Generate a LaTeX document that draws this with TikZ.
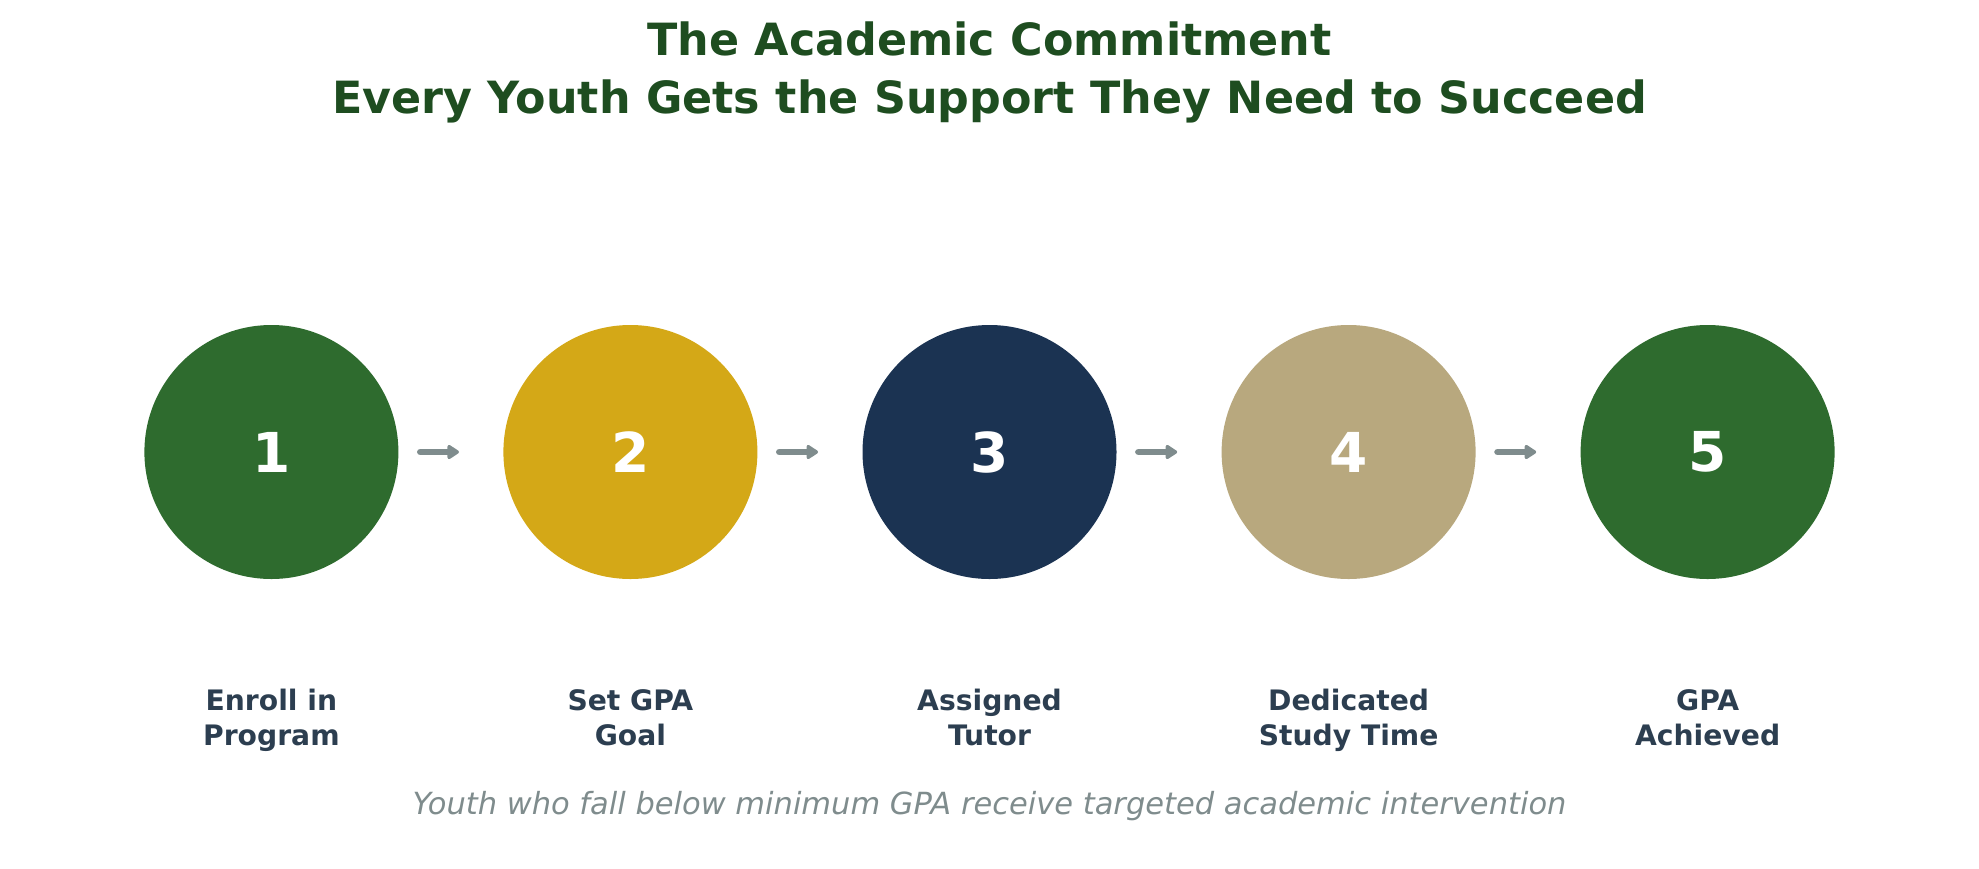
\documentclass[tikz,border=0pt]{standalone}
\usepackage{fontspec}
\setmainfont{DejaVu Sans}
\usetikzlibrary{arrows.meta}
\definecolor{cgreen}{RGB}{46,107,46}
\definecolor{cgold}{RGB}{212,168,23}
\definecolor{cnavy}{RGB}{27,51,82}
\definecolor{ctan}{RGB}{184,168,126}
\definecolor{ctitle}{RGB}{30,77,32}
\definecolor{clabel}{RGB}{44,62,80}
\definecolor{cgray}{RGB}{127,140,141}
\tikzset{
  stepcircle/.style={circle, inner sep=0pt, minimum size=127pt, text=white,
    font=\fontsize{27.5pt}{30pt}\selectfont\bfseries},
  steplabel/.style={align=center, text=clabel,
    font=\fontsize{14.1pt}{17.7pt}\selectfont\bfseries},
  arr/.style={draw=cgray, line width=3.4pt, line cap=round,
    -{Triangle[length=6.5pt, width=8pt, round]},
    shorten <=10.8pt, shorten >=22pt},
}
\begin{document}
\begin{tikzpicture}[x=0.5pt, y=-0.5pt]
\useasboundingbox (0,0) rectangle (1979,868);
\node[text=ctitle, align=center, font=\fontsize{22.2pt}{29pt}\selectfont\bfseries] (title) at (989.5,72)
  {The Academic Commitment\\Every Youth Gets the Support They Need to Succeed};
\node[stepcircle, fill=cgreen] (c1) at (271.4,452) {1};
\node[stepcircle, fill=cgold]  (c2) at (630.4,452) {2};
\node[stepcircle, fill=cnavy]  (c3) at (989.5,452) {3};
\node[stepcircle, fill=ctan]   (c4) at (1348.6,452) {4};
\node[stepcircle, fill=cgreen] (c5) at (1707.6,452) {5};
\draw[arr] (c1) -- (c2);
\draw[arr] (c2) -- (c3);
\draw[arr] (c3) -- (c4);
\draw[arr] (c4) -- (c5);
\node[steplabel] (l1) at (271.4,721) {\strut Enroll in\\\strut Program};
\node[steplabel] (l2) at (630.4,721) {\strut Set GPA\\\strut Goal};
\node[steplabel] (l3) at (989.5,721) {\strut Assigned\\\strut Tutor};
\node[steplabel] (l4) at (1348.6,721) {\strut Dedicated\\\strut Study Time};
\node[steplabel] (l5) at (1707.6,721) {\strut GPA\\\strut Achieved};
\node[text=cgray, font=\fontsize{15.25pt}{18pt}\selectfont\itshape] (note) at (989.5,806.5)
  {Youth who fall below minimum GPA receive targeted academic intervention};
\end{tikzpicture}
\end{document}
